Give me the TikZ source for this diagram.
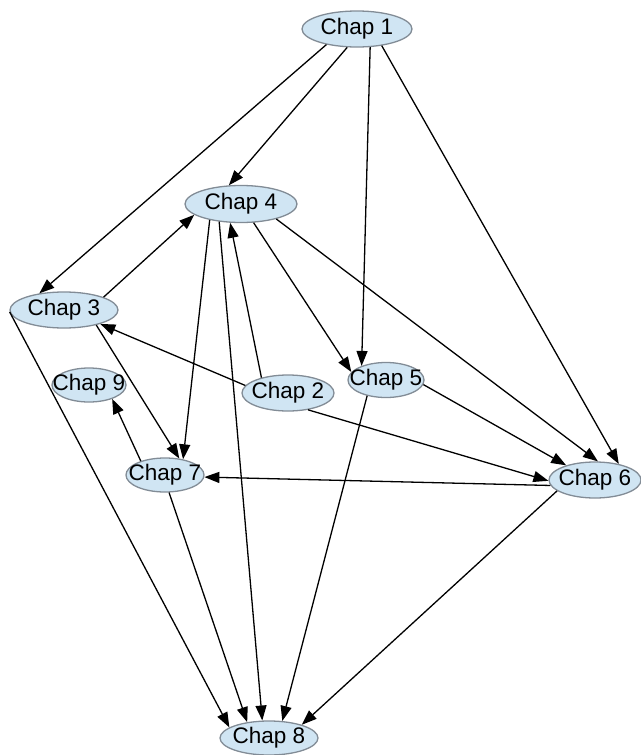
\documentclass[tikz,border=0pt]{standalone}
\usepackage{fontspec}
\setmainfont{Liberation Sans}
\usetikzlibrary{shapes.geometric,arrows.meta}
\definecolor{chapfill}{RGB}{208,229,243}
\definecolor{chapline}{RGB}{130,140,150}

\begin{document}
\begin{tikzpicture}[x=1pt,y=-1pt,
    chap/.style 2 args={ellipse,draw=chapline,line width=1.3pt,fill=chapfill,
        minimum width=#1pt,minimum height=#2pt,inner sep=0pt,
        font=\fontsize{22.5}{26}\selectfont},
    dep/.style={-{Triangle[length=15pt,width=11pt]},line width=1.3pt}]
    \useasboundingbox (0,0) rectangle (640,755);

    \node[chap={110}{36}] (c1) at (357,29) {\makebox[0pt]{Chap 1}};
    \node[chap={112}{37}] (c4) at (241,204) {\makebox[0pt]{Chap 4}};
    \node[chap={108}{36}] (c3) at (64,310) {\makebox[0pt]{Chap 3}};
    \node[chap={74}{34}] (c9) at (89,385) {\makebox[0pt]{Chap 9}};
    \node[chap={92}{36}] (c2) at (288,393) {\makebox[0pt]{Chap 2}};
    \node[chap={76}{35}] (c5) at (386,380) {\makebox[0pt]{Chap 5}};
    \node[chap={78}{34}] (c7) at (165,475) {\makebox[0pt]{Chap 7}};
    \node[chap={92}{36}] (c6) at (595,480) {\makebox[0pt]{Chap 6}};
    \node[chap={98}{34}] (c8) at (269,738) {\makebox[0pt]{Chap 8}};

    \draw[dep] (c1.207) -- (c3.146);
    \draw[dep] (c1.242) -- (c4.123);
    \draw[dep] (c1.306) -- (c5.150);
    \draw[dep] (c1.326) -- (c6.34);
    \draw[dep] (c3.18) -- (c4.193);
    \draw[dep] (c4.207) -- (c7.41);
    \draw[dep] (c4.219) -- (c8.111);
    \draw[dep] (c2.150) -- (c4.240);
    \draw[dep] (c4.304) -- (c5.167);
    \draw[dep] (c4.337) -- (c6.81);
    \draw[dep] (c3.335) -- (c7.49);
    \draw[dep] (c3.182) -- (c8.165);
    \draw[dep] (c2.170) -- (c3.339);
    \draw[dep] (c2.320) -- (c6.181);
    \draw[dep] (c5.353) -- (c6.153);
    \draw[dep] (c5.220) -- (c8.52);
    \draw[dep] (c6.187) -- (c7.357);
    \draw[dep] (c6.196) -- (c8.22);
    \draw[dep] (c7.150) -- (c9.329);
    \draw[dep] (c7.283) -- (c8.144);
\end{tikzpicture}
\end{document}
